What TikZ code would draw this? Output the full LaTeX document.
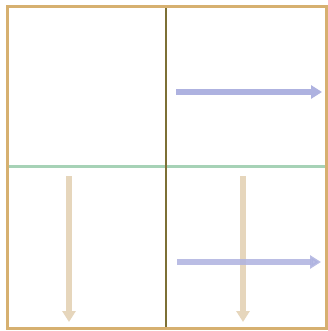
\documentclass[tikz,border=0pt]{standalone}
\usetikzlibrary{arrows.meta}
\definecolor{bordercol}{HTML}{D6B070}
\definecolor{hcol}{HTML}{A6D2B6}
\definecolor{vcol}{HTML}{7D7035}
\definecolor{bluearr}{HTML}{AEB2E0}
\definecolor{tanarr}{HTML}{E6D6BC}
\tikzset{
  bluearrow/.style={draw=bluearr, line width=6pt, -{Triangle[length=11pt,width=13pt]}},
  tanarrow/.style={draw=tanarr, line width=6pt, -{Triangle[length=11pt,width=13pt]}},
}
\begin{document}
\begin{tikzpicture}[x=1pt,y=-1pt]
\useasboundingbox (0,0) rectangle (328,331);
\fill[white] (0,0) rectangle (328,331);
\coordinate (tl) at (7,7);
\coordinate (br) at (326,328);
% arrows
\coordinate (a1s) at (69,176); \coordinate (a1e) at (69,322);
\coordinate (a2s) at (243,176); \coordinate (a2e) at (243,322);
\coordinate (b1s) at (176,92); \coordinate (b1e) at (322,92);
\coordinate (b2s) at (177,262); \coordinate (b2e) at (321,262);
\draw[tanarrow] (a1s) -- (a1e);
\draw[tanarrow] (a2s) -- (a2e);
\draw[bluearrow] (b1s) -- (b1e);
\draw[bluearrow, opacity=0.85] (b2s) -- (b2e);
% dividers
\coordinate (hl) at (7,166); \coordinate (hr) at (326,166);
\coordinate (vt) at (166,7); \coordinate (vb) at (166,328);
\draw[hcol, line width=3pt] (hl) -- (hr);
\draw[vcol, line width=2.5pt] (vt) -- (vb);
\draw[bordercol, line width=3pt] (tl) rectangle (br);
\end{tikzpicture}
\end{document}
